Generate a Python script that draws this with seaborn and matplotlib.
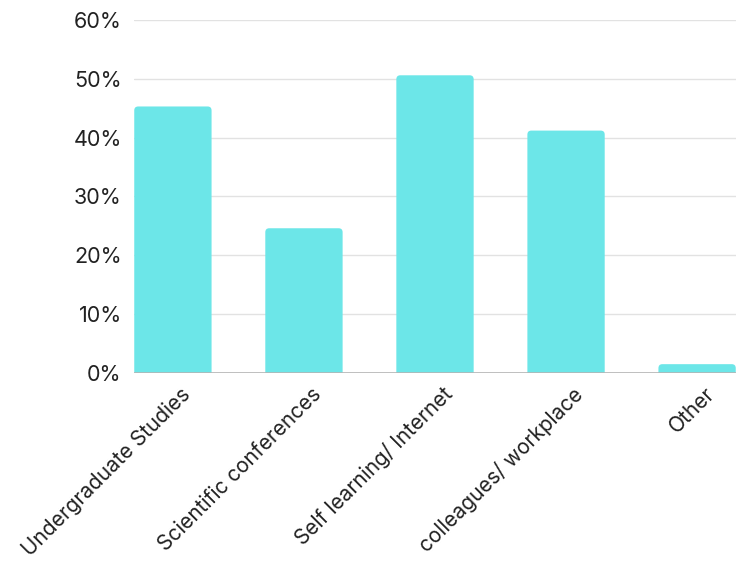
import matplotlib
matplotlib.use('Agg')
import matplotlib.pyplot as plt
import matplotlib.transforms as mtransforms
import seaborn as sns
import pandas as pd
from matplotlib.patches import FancyBboxPatch
from matplotlib.ticker import PercentFormatter

categorias = ['Undergraduate Studies', 'Scientific conferences', 'Self learning/ Internet',
              'colleagues/ workplace', 'Other']
valores = [0.453, 0.246, 0.506, 0.412, 0.015]
yticks = [0, 0.1, 0.2, 0.3, 0.4, 0.5, 0.6]

df = pd.DataFrame({'categoria': categorias, 'valor': valores})

sns.set_theme(style='white')
plt.rcParams['font.family'] = ['Inter', 'DejaVu Sans']

fig = plt.figure(figsize=(7.5, 5.63), dpi=100)
ax = fig.add_axes([0.179, 0.3375, 0.802, 0.627])

sns.barplot(data=df, x='categoria', y='valor', color='#6ce6e8', width=0.59,
            saturation=1, ax=ax, zorder=3)

# cantos arredondados
rx = 0.03
ry = 0.0068
for p in list(ax.patches):
    x, w, h = p.get_x(), p.get_width(), p.get_height()
    nova = FancyBboxPatch((x, -ry), w, h + ry,
                          boxstyle=f'round,pad=0,rounding_size={rx}',
                          mutation_aspect=ry / rx,
                          facecolor=p.get_facecolor(), edgecolor='none', zorder=3)
    p.remove()
    ax.add_patch(nova)

ax.set_xlim(-0.295, 4.295)
ax.set_ylim(0, 0.6)
ax.set_yticks(yticks)
ax.yaxis.set_major_formatter(PercentFormatter(1.0, decimals=0))
ax.grid(axis='y', color='#e2e2e2', linewidth=1, zorder=0)
ax.axhline(0, color='#b5b5b5', linewidth=1.2, zorder=4)
for s in ax.spines.values():
    s.set_visible(False)
ax.set_xlabel('')
ax.set_ylabel('')
ax.tick_params(axis='y', length=0, labelsize=15.5, labelcolor='#222222', pad=9)
ax.tick_params(axis='x', length=0, labelsize=15, labelcolor='#222222', pad=10)
desloc = mtransforms.ScaledTranslation(14 / 100, -4 / 100, fig.dpi_scale_trans)
for lbl in ax.get_xticklabels():
    lbl.set_rotation(45)
    lbl.set_ha('right')
    lbl.set_va('center')
    lbl.set_rotation_mode('anchor')
    lbl.set_transform(lbl.get_transform() + desloc)

plt.savefig('out.png', dpi=100, facecolor='white')
